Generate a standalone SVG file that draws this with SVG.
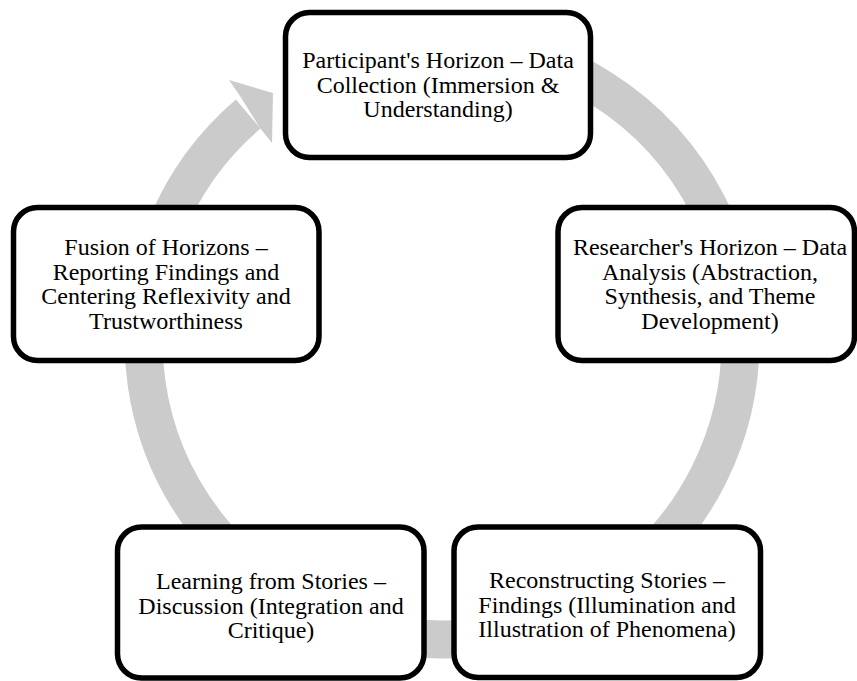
<svg xmlns="http://www.w3.org/2000/svg" width="857" height="681" viewBox="0 0 857 681">
<style>
.box{fill:#ffffff;stroke:#000000;stroke-width:5.5}
.lbl{font-family:"Liberation Serif","Times New Roman",serif;font-size:24px;fill:#000000;text-anchor:middle}
.ring{fill:none;stroke:#cbcbcb;stroke-width:38}
.head{fill:#cbcbcb;stroke:none}
</style>
<rect width="857" height="681" fill="#ffffff"/>
<g id="connectors">
<path class="ring" d="M 315.8 70.5 A 298.5 298.5 0 1 1 248.2 114"/>
<polygon class="head" points="240,96 229,80 273,93 272,143 260,128"/>
</g>
<g id="node-participant">
<rect class="box" x="285.5" y="12.5" width="305" height="145" rx="24"/>
<text class="lbl" x="438" y="68">Participant's Horizon – Data</text>
<text class="lbl" x="438" y="92.5">Collection (Immersion &amp;</text>
<text class="lbl" x="438" y="117">Understanding)</text>
</g>
<g id="node-researcher">
<rect class="box" x="558" y="207.5" width="296.5" height="153" rx="24"/>
<text class="lbl" x="710" y="255">Researcher's Horizon – Data</text>
<text class="lbl" x="710" y="279.5">Analysis (Abstraction,</text>
<text class="lbl" x="710" y="304">Synthesis, and Theme</text>
<text class="lbl" x="710" y="328.5">Development)</text>
</g>
<g id="node-reconstructing">
<rect class="box" x="454" y="527" width="306.5" height="150.5" rx="24"/>
<text class="lbl" x="607" y="588">Reconstructing Stories –</text>
<text class="lbl" x="607" y="612.5">Findings (Illumination and</text>
<text class="lbl" x="607" y="637">Illustration of Phenomena)</text>
</g>
<g id="node-learning">
<rect class="box" x="117.5" y="527" width="306.5" height="151" rx="24"/>
<text class="lbl" x="271" y="589">Learning from Stories –</text>
<text class="lbl" x="271" y="613.5">Discussion (Integration and</text>
<text class="lbl" x="271" y="638">Critique)</text>
</g>
<g id="node-fusion">
<rect class="box" x="13.5" y="207.5" width="305.5" height="153" rx="24"/>
<text class="lbl" x="166" y="255">Fusion of Horizons –</text>
<text class="lbl" x="166" y="279.5">Reporting Findings and</text>
<text class="lbl" x="166" y="304">Centering Reflexivity and</text>
<text class="lbl" x="166" y="328.5">Trustworthiness</text>
</g>
</svg>
